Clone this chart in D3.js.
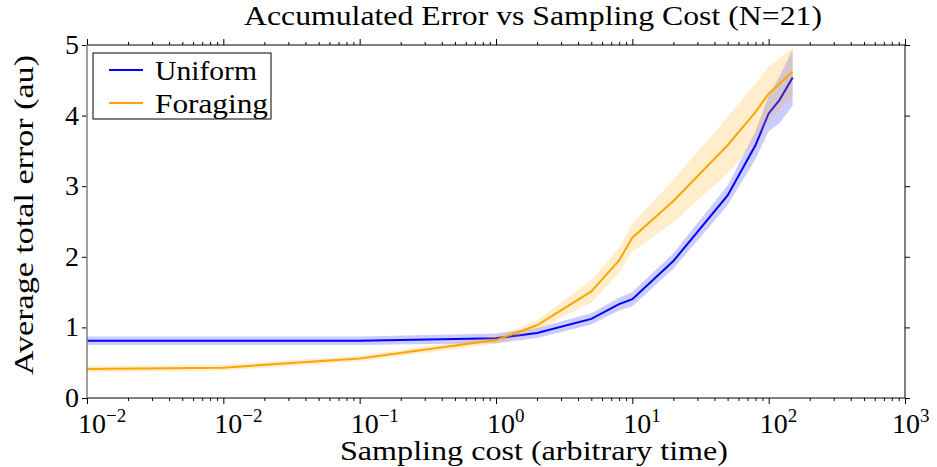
<!DOCTYPE html>
<html>
<head>
<meta charset="utf-8">
<script src="https://cdn.jsdelivr.net/npm/d3@7"></script>
<style>
  body { margin: 0; background: #fff; }
  text { font-family: "Liberation Serif", "DejaVu Serif", serif; fill: #000; }
</style>
</head>
<body>
<svg id="chart" width="937" height="467"></svg>
<script>
// sampling cost values (x) shared by both series
const costs = [0.001, 0.01, 0.1, 1, 2, 5, 8, 10, 20, 50, 80, 100, 120, 150];

const uniformMean = [0.81, 0.81, 0.81, 0.845, 0.92, 1.12, 1.33, 1.40, 1.94, 2.87, 3.58, 4.03, 4.22, 4.54];
const uniformErr  = [0.06, 0.06, 0.06, 0.07, 0.07, 0.08, 0.09, 0.10, 0.11, 0.14, 0.20, 0.25, 0.33, 0.40];

const foragingMean = [0.41, 0.43, 0.56, 0.82, 1.03, 1.51, 1.95, 2.27, 2.79, 3.58, 4.05, 4.31, 4.45, 4.62];
const foragingErr  = [0.04, 0.04, 0.04, 0.05, 0.07, 0.16, 0.18, 0.20, 0.30, 0.40, 0.40, 0.38, 0.36, 0.34];

// tick labels exactly as printed on the original (first one repeats 10^-2)
const xTickValues = [0.001, 0.01, 0.1, 1, 10, 100, 1000];
const xTickExps = ["\u22122", "\u22122", "\u22121", "0", "1", "2", "3"];
const yTicks = [0, 1, 2, 3, 4, 5];

const title = "Accumulated Error vs Sampling Cost (N=21)";
const xLabel = "Sampling cost (arbitrary time)";
const yLabel = "Average total error (au)";

const m = { top: 45, right: 32, bottom: 69, left: 87 };
const W = 937, H = 467;
const w = W - m.left - m.right, h = H - m.top - m.bottom;

const svg = d3.select("#chart");
const g = svg.append("g").attr("transform", `translate(${m.left},${m.top})`);

const x = d3.scaleLog().domain([0.001, 1000]).range([0, w]);
const y = d3.scaleLinear().domain([0, 5]).range([h, 0]);

// stretch the text to the width it takes in the original (Computer Modern is wider)
function stretch(sel, target) {
  sel.attr("textLength", target).attr("lengthAdjust", "spacingAndGlyphs");
}

// bands + lines
function drawSeries(mean, err, color) {
  const rows = costs.map((c, i) => ({ c, m: mean[i], e: err[i] }));
  g.append("path")
    .datum(rows)
    .attr("fill", color)
    .attr("fill-opacity", 0.2)
    .attr("d", d3.area().x(d => x(d.c)).y0(d => y(d.m - d.e)).y1(d => y(d.m + d.e)));
  g.append("path")
    .datum(rows)
    .attr("fill", "none")
    .attr("stroke", color)
    .attr("stroke-width", 2)
    .attr("d", d3.line().x(d => x(d.c)).y(d => y(d.m)));
}
drawSeries(uniformMean, uniformErr, "#0000ff");
drawSeries(foragingMean, foragingErr, "#ffa500");

// axes: outward ticks on all four sides, minor ticks on the log axis
const minor = [];
for (let e = -3; e < 3; e++) for (let k = 2; k < 10; k++) minor.push(k * Math.pow(10, e));

const axBottom = g.append("g").attr("transform", `translate(0,${h})`);
axBottom.call(d3.axisBottom(x).tickValues(xTickValues).tickSize(6).tickFormat(""));
axBottom.append("g").call(d3.axisBottom(x).tickValues(minor).tickSize(3).tickFormat(""));
const axTop = g.append("g");
axTop.call(d3.axisTop(x).tickValues(xTickValues).tickSize(6).tickFormat(""));
axTop.append("g").call(d3.axisTop(x).tickValues(minor).tickSize(3).tickFormat(""));
g.append("g").call(d3.axisLeft(y).tickValues(yTicks).tickSize(5).tickFormat(""));
g.append("g").attr("transform", `translate(${w},0)`)
  .call(d3.axisRight(y).tickValues(yTicks).tickSize(5).tickFormat(""));
g.selectAll(".domain").remove();
g.selectAll(".tick line").attr("stroke", "#000").attr("stroke-width", 1);

// frame: left spine is grey, the rest black
g.append("line").attr("x1", 0).attr("x2", w).attr("y1", h).attr("y2", h).attr("stroke", "#000");
g.append("line").attr("x1", 0).attr("x2", w).attr("y1", 0).attr("y2", 0).attr("stroke", "#000");
g.append("line").attr("x1", w).attr("x2", w).attr("y1", 0).attr("y2", h).attr("stroke", "#000");
g.append("line").attr("x1", 0).attr("x2", 0).attr("y1", 0).attr("y2", h).attr("stroke", "#808080").attr("stroke-width", 1.5);

// x tick labels: 10 with superscript exponent
xTickValues.forEach((v, i) => {
  const t = g.append("text")
    .attr("x", x(v) - (i === xTickValues.length - 1 ? 13 : 9))
    .attr("y", h + 35)
    .attr("font-size", 28);
  t.append("tspan").text("10");
  t.append("tspan").attr("dy", -11).attr("font-size", 19).text(xTickExps[i]);
});

// y tick labels
yTicks.forEach(v => {
  g.append("text")
    .attr("x", -8)
    .attr("y", y(v) + 9)
    .attr("text-anchor", "end")
    .attr("font-size", 28)
    .text(v);
});

// titles
const tt = svg.append("text").attr("x", 533).attr("y", 25).attr("text-anchor", "middle")
  .attr("font-size", 27).text(title);
stretch(tt, 578);
const xl = svg.append("text").attr("x", 534).attr("y", 460).attr("text-anchor", "middle")
  .attr("font-size", 27).text(xLabel);
stretch(xl, 388);
const yl = svg.append("text").attr("transform", "translate(33,215) rotate(-90)")
  .attr("text-anchor", "middle").attr("font-size", 27).text(yLabel);
stretch(yl, 320);

// legend
const lg = svg.append("g").attr("transform", "translate(93,53)");
lg.append("rect").attr("width", 178).attr("height", 66).attr("fill", "#fff").attr("stroke", "#000");
[["Uniform", "#0000ff", 102], ["Foraging", "#ffa500", 113]].forEach(([name, col, wd], i) => {
  const yy = 17 + i * 33;
  lg.append("line").attr("x1", 16).attr("x2", 50).attr("y1", yy).attr("y2", yy)
    .attr("stroke", col).attr("stroke-width", 2);
  const lt = lg.append("text").attr("x", 62).attr("y", yy + 10).attr("font-size", 27).text(name);
  stretch(lt, wd);
});
</script>
</body>
</html>
